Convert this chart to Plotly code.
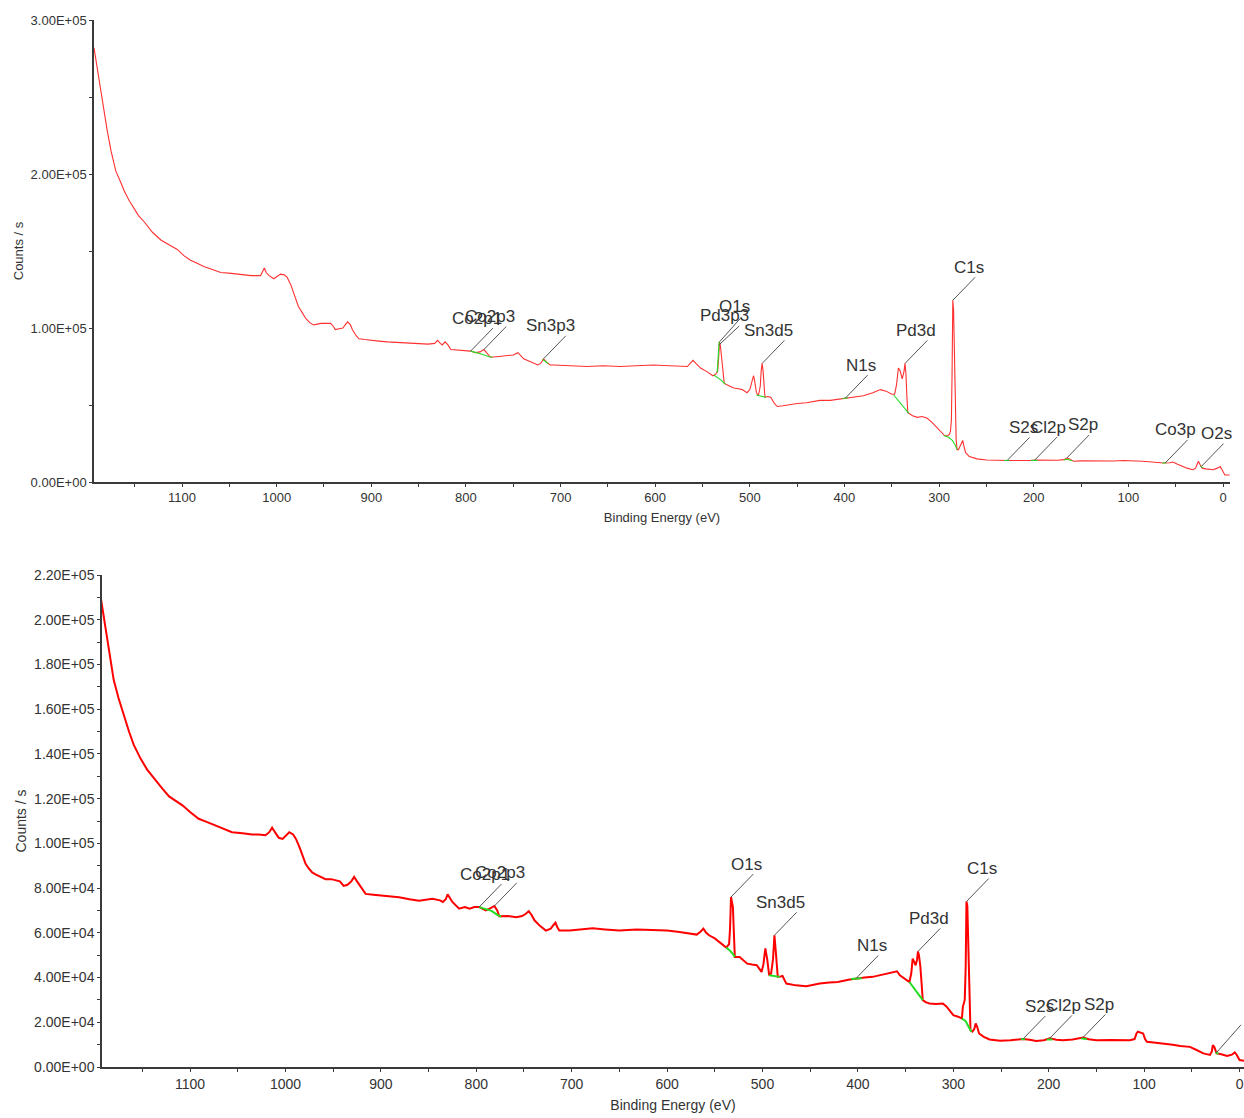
import plotly.graph_objects as go

# ---------------- data: top survey spectrum ----------------
top_be = [1193, 1188, 1183, 1179, 1175, 1170, 1165, 1161, 1156, 1151, 1146, 1140, 1131, 1122, 1113, 1105,
          1098, 1091, 1084, 1077, 1068, 1059, 1048, 1038, 1027, 1017, 1015, 1013, 1011, 1008, 1003, 999,
          996, 992, 989, 985, 982, 979, 977, 973, 969, 965, 961, 957, 953, 948, 943, 940, 938, 934, 930,
          927, 925, 922, 920, 916, 913, 907, 901, 892, 883, 867, 851, 840, 833, 830, 827, 825, 822, 819,
          816, 806, 795, 790, 785, 781, 778, 774, 765, 756, 750, 745, 742, 739, 731, 724, 721, 718, 715,
          711, 707, 690, 672, 655, 637, 620, 602, 585, 566, 563, 560, 557, 552, 545, 539, 536, 534, 533,
          532, 531, 530, 529, 528, 527, 522, 517, 512, 508, 503, 500, 497, 496, 495, 493, 491, 489, 488,
          487, 486, 485, 484, 481, 478, 474, 471, 465, 460, 450, 440, 426, 415, 404, 399, 390, 380, 370,
          362, 356, 350, 347, 345, 343, 341, 339, 337, 336, 335, 334, 333, 328, 323, 318, 313, 308, 302,
          298, 294, 291, 289, 288, 287, 286.3, 285.5, 284.7, 284, 283, 282, 281, 279.5, 278, 276, 275,
          274, 272, 268, 260, 250, 239, 228, 220, 210, 204, 199, 190, 175, 168, 165, 162, 158, 150, 135,
          116, 105, 98, 91, 85, 75, 63, 56, 53, 48, 43, 38, 32, 29, 27, 26, 24, 22, 18, 14, 10.5, 6, 3, 1,
          -2, -7]
top_cps = [282000, 262000, 245000, 228000, 215000, 202000, 195000, 189000, 183000, 178000, 173000, 169000,
           162000, 157000, 154000, 151000, 147000, 144000, 142000, 140000, 138000, 136000, 135500, 135000,
           134000, 134000, 137000, 139000, 136000, 134000, 132000, 134000, 135000, 134500, 133000, 128000,
           123000, 118000, 114000, 110000, 106000, 103500, 102000, 102500, 103000, 103000, 103000, 101000,
           99000, 99500, 100000, 102500, 104000, 102000, 99000, 95000, 93000, 92500, 92000, 91500, 91000,
           90500, 90000, 89500, 90000, 92000, 90000, 89000, 91000, 89000, 86000, 85500, 85000, 84000, 84500,
           86000, 84000, 81000, 81500, 82000, 82500, 84000, 82000, 80000, 78000, 76000, 77000, 80000, 78000,
           76000, 76000, 75500, 75000, 75500, 75000, 75500, 76000, 75500, 75000, 77000, 79000, 77000, 74000,
           71500, 69000, 70000, 72000, 80000, 91000, 88000, 82000, 77000, 70000, 64000, 62500, 61000, 60500,
           60000, 58000, 60000, 67000, 69000, 66000, 58000, 56000, 62000, 72000, 77000, 72000, 62000, 55000,
           55500, 55000, 51000, 49000, 49500, 50000, 51000, 51500, 53000, 53000, 54000, 54500, 55000, 56000,
           58000, 60000, 59000, 57000, 57000, 63000, 74000, 72000, 67000, 72000, 77000, 70000, 55000, 45000,
           43000, 42000, 42500, 41500, 39000, 35000, 32000, 30000, 30000, 31000, 33000, 40000, 70000, 118000,
           112000, 86000, 55000, 28000, 21000, 21000, 23000, 26000, 27000, 24000, 19000, 16500, 15000, 14300,
           14000, 14000, 14000, 13800, 14000, 14200, 14000, 14100, 14500, 15600, 15000, 13500, 13700, 13600,
           13600, 14000, 13800, 14000, 13500, 13000, 12300, 12500, 13000, 11500, 10000, 9000, 8000, 9000,
           12000, 13500, 11000, 9000, 8500, 8000, 8000, 9000, 10000, 8000, 4500, 4500]

# background (fit-region) segments, top spectrum: (binding energies, counts)
top_bg = [
    ([795, 788, 783, 776, 772], [85000, 84000, 83000, 81500, 81000]),
    ([719, 716, 713], [79500, 78000, 77000]),
    ([534.5, 533.3, 532.4], [71000, 84000, 91000]),
    ([538, 534, 530, 526], [69500, 68000, 66000, 63500]),
    ([493, 488, 483], [56500, 55500, 55000]),
    ([402, 399, 396], [54200, 54500, 54700]),
    ([348, 344, 340, 336, 332], [56500, 53500, 50000, 47000, 44500]),
    ([295, 290, 286, 283, 281], [30200, 29000, 27000, 24000, 21000]),
    ([231, 226], [14000, 14000]),
    ([203, 196], [14000, 14000]),
    ([168, 165, 159], [14300, 14800, 13800]),
    ([64, 60], [12300, 12400]),
    ([24, 21], [10500, 9200]),
]

top_labels = ["Co2p1", "Co2p3", "Sn3p3", "Pd3p3", "O1s", "Sn3d5", "N1s", "Pd3d", "C1s",
              "S2s", "Cl2p", "S2p", "Co3p", "O2s"]
top_label_be = [795, 781, 718, 532.6, 532, 487, 399, 336, 285.5, 228, 199, 165, 61, 23]
top_label_cps = [85000, 86000, 80000, 89000, 91000, 77000, 54500, 77000, 118000, 14000, 14200, 15600, 12400, 10000]

# ---------------- data: bottom survey spectrum ----------------
bot_be = [1194, 1191, 1188.7, 1186, 1183, 1180, 1175, 1170, 1164, 1159, 1152, 1145, 1136, 1129, 1122, 1115,
          1108, 1100, 1091, 1082, 1073, 1064, 1056, 1045, 1035, 1028, 1021, 1017, 1014, 1011, 1007, 1003,
          999, 996, 992, 989, 985, 982, 979, 976, 972, 968, 963, 958, 952, 947, 943, 939, 935, 931, 928,
          925, 921, 916, 908, 899, 890, 881, 870, 860, 846, 838, 835, 832, 830, 827, 825, 818, 812, 807,
          802, 797, 790, 785, 781, 778, 776, 767, 758, 752, 748, 745, 742, 739, 733, 727, 722, 719, 717,
          715, 713, 702, 690, 678, 665, 650, 632, 615, 600, 587, 575, 569, 565, 562, 559, 556, 550, 545,
          538, 535, 534, 533, 532, 531, 530, 529, 524, 520, 516, 511, 506, 501, 499, 497, 495, 493, 491,
          489, 487.5, 486.5, 485, 484, 481, 479, 475, 465, 454, 447, 440, 430, 421, 410, 402, 393, 384.5,
          377, 370, 362, 359, 356, 351, 346, 344, 342.6, 341, 339.5, 338, 337, 336, 334.5, 333, 332, 329,
          325, 318, 311, 307, 303, 300, 295, 291, 290, 288, 287, 286.2, 285.3, 284.6, 283.5, 282, 280, 278,
          276.5, 275, 273, 268, 262, 251, 240, 227, 220, 213, 205, 199, 192, 185, 175, 164, 158, 150, 135,
          115, 110, 108, 106.5, 104, 101, 99, 97, 90, 80, 70, 62, 52, 45, 38, 31, 29, 28, 26.5, 24, 20, 13,
          8, 5, 3, 0, -4.7]
bot_cps = [211000, 203000, 196000, 188000, 181000, 173000, 165000, 158000, 150000, 144000, 138000, 133000,
           128000, 124500, 121000, 119000, 117000, 114000, 111000, 109500, 108000, 106500, 105000, 104500,
           104000, 104000, 103600, 105000, 107000, 105000, 102500, 102000, 103500, 105000, 104000, 102000,
           98000, 94000, 91000, 89000, 87000, 86000, 85000, 84000, 84000, 83600, 83000, 81000, 81500, 83000,
           85000, 83000, 80500, 77400, 77000, 76600, 76200, 75900, 75000, 74300, 75200, 74500, 73800, 75000,
           77200, 75000, 73800, 70800, 71500, 70800, 71500, 71500, 70000, 71000, 72000, 70000, 67400, 67500,
           67000, 67500, 68500, 69700, 68000, 65600, 63000, 61000, 61900, 63500, 64500, 62500, 61000, 61000,
           61500, 62000, 61500, 61000, 61500, 61400, 61000, 60400, 59800, 59200, 60500, 61900, 60000, 58900,
           57500, 55900, 53400, 55000, 62000, 76000, 74000, 71500, 60000, 49200, 49200, 47500, 46200, 45800,
           45500, 42500, 46000, 53000, 48000, 41000, 41800, 48000, 58900, 54000, 45000, 40400, 40500, 40700,
           37300, 36500, 36100, 36800, 37300, 37800, 38000, 39000, 39600, 40000, 40300, 41000, 41800, 42500,
           42800, 41000, 39500, 38000, 42000, 48500, 47000, 45500, 48000, 51700, 50000, 44800, 36000, 29900,
           29000, 28400, 28200, 28400, 27000, 24500, 23200, 22500, 21700, 26900, 30000, 45000, 74000, 72000,
           56700, 35000, 16500, 15800, 17000, 19500, 18000, 15000, 13500, 12300, 11700, 12000, 12500, 12200,
           11600, 12000, 12800, 12200, 12000, 12300, 13200, 12400, 12000, 12100, 12000, 12500, 15000, 15800,
           15500, 15000, 12500, 11300, 11000, 10300, 9900, 9400, 9000, 7600, 6100, 5400, 7000, 9800, 9000,
           6100, 5800, 4900, 5500, 6500, 5500, 3100, 2800]

bot_bg = [
    ([797, 790, 784, 778, 774], [71500, 70500, 69800, 68000, 67200]),
    ([538, 534, 531, 529], [53400, 52000, 50500, 49200]),
    ([493, 488, 482], [41000, 40600, 40300]),
    ([407, 402, 396], [39300, 39500, 39700]),
    ([346, 341, 336, 332], [38000, 35000, 32000, 29900]),
    ([291, 287, 284, 281], [21700, 20500, 18000, 15800]),
    ([229, 225], [12500, 12400]),
    ([202, 196], [12300, 12300]),
    ([166, 160], [12800, 12400]),
    ([25, 22], [6500, 5900]),
]

# the last marker (O2s, ~24 eV) has its label beyond the picture's right edge; only its leader shows
bot_labels = ["Co2p1", "Co2p3", "O1s", "Sn3d5", "N1s", "Pd3d", "C1s", "S2s", "Cl2p", "S2p", " "]
bot_label_be = [797, 781, 533, 487.5, 402, 337, 286.2, 227, 199, 164, 24]
bot_label_cps = [71500, 72000, 76000, 58900, 39600, 51700, 74000, 12500, 12800, 13200, 6500]

# ---------------- tick definitions ----------------
top_xtick_vals = [1150, 1100, 1050, 1000, 950, 900, 850, 800, 750, 700, 650, 600, 550, 500,
                  450, 400, 350, 300, 250, 200, 150, 100, 50, 0]
top_xtick_text = ["", "1100", "", "1000", "", "900", "", "800", "", "700", "", "600", "", "500",
                  "", "400", "", "300", "", "200", "", "100", "", "0"]
top_ytick_vals = [0, 50000, 100000, 150000, 200000, 250000, 300000]
top_ytick_text = ["0.00E+00", "", "1.00E+05", "", "2.00E+05", "", "3.00E+05"]
bot_ytick_vals = [0, 10000, 20000, 30000, 40000, 50000, 60000, 70000, 80000, 90000, 100000, 110000,
                  120000, 130000, 140000, 150000, 160000, 170000, 180000, 190000, 200000, 210000, 220000]
bot_ytick_text = ["0.00E+00", "", "2.00E+04", "", "4.00E+04", "", "6.00E+04", "", "8.00E+04", "",
                  "1.00E+05", "", "1.20E+05", "", "1.40E+05", "", "1.60E+05", "", "1.80E+05", "",
                  "2.00E+05", "", "2.20E+05"]

# ---------------- styles ----------------
W, H = 1244, 1118
FONT = "Arial, Liberation Sans, sans-serif"
AXIS_COLOR = "#3a3a3a"
TEXT_COLOR = "#333333"
GREEN = "#22dd22"

fig = go.Figure()

fig.add_trace(go.Scatter(x=top_be, y=top_cps, mode="lines", xaxis="x", yaxis="y",
                         line=dict(color="#ff3030", width=1.1), hoverinfo="skip", showlegend=False))
for be, cps in top_bg:
    fig.add_trace(go.Scatter(x=be, y=cps, mode="lines", xaxis="x", yaxis="y",
                             line=dict(color=GREEN, width=1.1), showlegend=False, hoverinfo="skip"))

fig.add_trace(go.Scatter(x=bot_be, y=bot_cps, mode="lines", xaxis="x2", yaxis="y2",
                         line=dict(color="#ff0000", width=2), hoverinfo="skip", showlegend=False))
for be, cps in bot_bg:
    fig.add_trace(go.Scatter(x=be, y=cps, mode="lines", xaxis="x2", yaxis="y2",
                             line=dict(color=GREEN, width=2), showlegend=False, hoverinfo="skip"))

annotations = []
def add_labels(labels, bes, cpss, xref, yref, special=None):
    for i, (lab, be, c) in enumerate(zip(labels, bes, cpss)):
        ax, ay = 32, -33
        if special and i in special:
            ax, ay = special[i]
        annotations.append(dict(
            x=be, y=c, xref=xref, yref=yref, text=lab, showarrow=True, arrowhead=0,
            arrowwidth=1, arrowcolor="#555555", ax=ax, ay=ay, xanchor="right", yanchor="middle",
            font=dict(family=FONT, size=17, color=TEXT_COLOR), borderpad=0))

add_labels(top_labels, top_label_be, top_label_cps, "x", "y",
           special={3: (31, -29), 4: (31, -35)})
add_labels(bot_labels, bot_label_be, bot_label_cps, "x2", "y2", special={10: (34, -35)})

def axis_style(size):
    return dict(showline=True, linecolor=AXIS_COLOR, linewidth=1.5, ticks="outside", ticklen=3,
                tickcolor=AXIS_COLOR, tickwidth=1, showgrid=False, zeroline=False,
                tickfont=dict(family=FONT, size=size, color=TEXT_COLOR), tickmode="array",
                automargin=False)

fig.update_layout(
    width=W, height=H, margin=dict(l=0, r=0, t=0, b=0),
    paper_bgcolor="white", plot_bgcolor="white", showlegend=False,
    annotations=annotations,
    xaxis=dict(axis_style(13), domain=[94 / W, 1230 / W], range=[1193, -7.4], anchor="y",
               tickvals=top_xtick_vals, ticktext=top_xtick_text,
               title=dict(text="Binding Energy (eV)", standoff=9,
                          font=dict(family=FONT, size=13, color=TEXT_COLOR))),
    yaxis=dict(axis_style(13), domain=[1 - 482 / H, 1 - 20 / H], range=[0, 300000], anchor="x",
               tickvals=top_ytick_vals, ticktext=top_ytick_text,
               title=dict(text="Counts / s", standoff=4,
                          font=dict(family=FONT, size=13, color=TEXT_COLOR))),
    xaxis2=dict(axis_style(14), domain=[102 / W, 1.0], range=[1192.3, -4.7], anchor="y2",
                tickvals=top_xtick_vals, ticktext=top_xtick_text,
                title=dict(text="Binding Energy (eV)", standoff=10,
                           font=dict(family=FONT, size=14, color=TEXT_COLOR))),
    yaxis2=dict(axis_style(14), domain=[1 - 1067 / H, 1 - 575 / H], range=[0, 220000], anchor="x2",
                tickvals=bot_ytick_vals, ticktext=bot_ytick_text,
                title=dict(text="Counts / s", standoff=4,
                           font=dict(family=FONT, size=14, color=TEXT_COLOR))),
)

fig.write_html("out.html")
